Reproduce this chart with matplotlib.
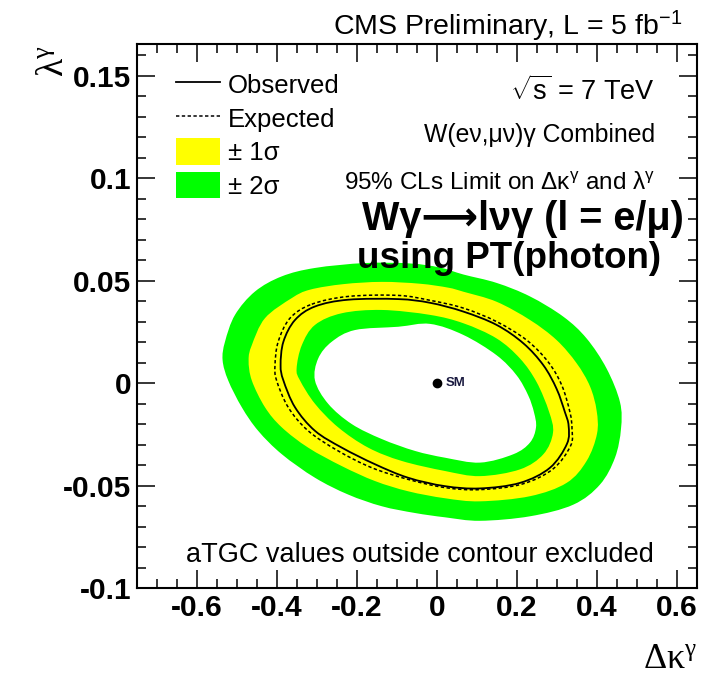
import numpy as np
import matplotlib
matplotlib.use("Agg")
import matplotlib.pyplot as plt
from matplotlib.lines import Line2D
from matplotlib.patches import Patch, PathPatch
from matplotlib.path import Path
from matplotlib.ticker import MultipleLocator

plt.rcParams['font.family'] = ['Liberation Sans', 'DejaVu Sans']
plt.rcParams['mathtext.fontset'] = 'custom'
plt.rcParams['mathtext.rm'] = 'Liberation Sans'
plt.rcParams['mathtext.it'] = 'Liberation Sans:italic'
plt.rcParams['mathtext.bf'] = 'Liberation Sans:bold'

# ---------------- data ----------------
x_ticks = [-0.6, -0.4, -0.2, 0, 0.2, 0.4, 0.6]
x_ticklabels = ['-0.6', '-0.4', '-0.2', '0', '0.2', '0.4', '0.6']
y_ticks = [-0.1, -0.05, 0, 0.05, 0.1, 0.15]
y_ticklabels = ['-0.1', '-0.05', '0', '0.05', '0.1', '0.15']

# outer edge of +-2 sigma band
band2_outer_x = [-0.305, -0.18, -0.0675, 0.0075, 0.066, 0.149, 0.2325, 0.316, 0.374, 0.424,
                 0.4575, 0.46, 0.445, 0.4075, 0.341, 0.2325, 0.1075, 0.02, -0.055, -0.138,
                 -0.222, -0.305, -0.388, -0.447, -0.488, -0.522, -0.536, -0.53, -0.505, -0.455, -0.388]
band2_outer_y = [0.0562, 0.0586, 0.0584, 0.0564, 0.0530, 0.0489, 0.0423, 0.0324, 0.0218, 0.0071,
                 -0.0093, -0.0223, -0.0364, -0.0495, -0.0593, -0.0650, -0.0672, -0.0655, -0.0634, -0.0601,
                 -0.0544, -0.0462, -0.0347, -0.0233, -0.0118, 0.0013, 0.0112, 0.0202, 0.0333, 0.0447, 0.0521]

# outer edge of +-1 sigma band
band1_outer_x = [-0.3175, -0.234, -0.138, -0.0425, 0.0275, 0.066, 0.149, 0.2325, 0.299, 0.349,
                 0.3825, 0.399, 0.40, 0.374, 0.324, 0.2325, 0.1075, 0.02, -0.072, -0.155,
                 -0.238, -0.322, -0.388, -0.43, -0.463, -0.471, -0.463, -0.43, -0.363]
band1_outer_y = [0.0456, 0.0483, 0.0494, 0.0485, 0.0466, 0.0446, 0.0397, 0.0308, 0.0210, 0.0097,
                 -0.0016, -0.0134, -0.0247, -0.0380, -0.0487, -0.0552, -0.0577, -0.0562, -0.0528, -0.0478,
                 -0.0405, -0.0315, -0.0216, -0.0118, 0.0013, 0.0112, 0.0185, 0.0317, 0.0415]

# inner edge of +-1 sigma band
band1_inner_x = [-0.305, -0.238, -0.138, -0.0175, 0.066, 0.149, 0.2075, 0.249, 0.28, 0.29,
                 0.266, 0.2075, 0.1075, 0.02, -0.088, -0.172, -0.247, -0.305, -0.3425, -0.351, -0.338]
band1_inner_y = [0.0284, 0.0341, 0.0357, 0.0333, 0.0292, 0.0218, 0.0120, 0.0005, -0.0139, -0.0242,
                 -0.0347, -0.0421, -0.0454, -0.0429, -0.0380, -0.0315, -0.0216, -0.0101, 0.0013, 0.0071, 0.0185]

# inner edge of +-2 sigma band
band2_inner_x = [-0.263, -0.205, -0.097, -0.0175, 0.066, 0.149, 0.199, 0.228, 0.2425, 0.2475,
                 0.2325, 0.191, 0.1075, 0.02, -0.055, -0.138, -0.213, -0.272, -0.305, -0.297]
band2_inner_y = [0.0202, 0.0259, 0.0275, 0.0289, 0.0235, 0.0136, 0.0038, -0.0060, -0.0143, -0.0216,
                 -0.0290, -0.0347, -0.0388, -0.0364, -0.0331, -0.0273, -0.0200, -0.0101, 0.0013, 0.0120]

# observed limit contour
obs_x = [-0.305, -0.222, -0.097, -0.0175, 0.066, 0.149, 0.216, 0.266, 0.299, 0.32,
         0.329, 0.325, 0.2825, 0.2075, 0.1075, 0.02, -0.072, -0.155, -0.238, -0.305,
         -0.355, -0.384, -0.391, -0.384, -0.355]
obs_y = [0.0374, 0.0407, 0.0410, 0.0392, 0.0349, 0.0284, 0.0194, 0.0087, -0.0028, -0.0143,
         -0.0208, -0.0296, -0.0413, -0.0487, -0.0514, -0.0503, -0.0462, -0.0396, -0.0315, -0.0233,
         -0.0118, 0.0013, 0.0087, 0.0202, 0.0308]

# expected limit contour
exp_x = [-0.313, -0.222, -0.097, -0.0175, 0.066, 0.149, 0.224, 0.278, 0.312, 0.3325,
         0.3375, 0.334, 0.29, 0.2125, 0.1075, 0.02, -0.072, -0.163, -0.247, -0.322,
         -0.372, -0.401, -0.405, -0.397, -0.3675]
exp_y = [0.0385, 0.0423, 0.0428, 0.0404, 0.0366, 0.0300, 0.0210, 0.0103, -0.0011, -0.0143,
         -0.0223, -0.0306, -0.0419, -0.0493, -0.0520, -0.0510, -0.0470, -0.0413, -0.0331, -0.0233,
         -0.0118, 0.0013, 0.0087, 0.0202, 0.0317]

sm_point = (0.0, 0.0)

YELLOW = '#ffff00'
GREEN = '#00ff00'


def closed_curve(xs, ys):
    """Closed smooth path through the given contour points (Catmull-Rom drawn as Bezier)."""
    p = np.column_stack([xs, ys]).astype(float)
    n = len(p)
    verts = [p[0]]
    codes = [Path.MOVETO]
    for i in range(n):
        p0, p1, p2, p3 = p[i - 1], p[i], p[(i + 1) % n], p[(i + 2) % n]
        verts += [p1 + (p2 - p0) / 6.0, p2 - (p3 - p1) / 6.0, p2]
        codes += [Path.CURVE4] * 3
    verts.append(p[0])
    codes.append(Path.CLOSEPOLY)
    return Path(verts, codes)


# ---------------- figure ----------------
fig = plt.figure(figsize=(7.10, 6.75), dpi=100)
ax = fig.add_axes([137/710, 87/675, 560/710, 544/675])
ax.set_xlim(-0.75, 0.65)
ax.set_ylim(-0.1, 0.1655)

ax.add_patch(PathPatch(closed_curve(band2_outer_x, band2_outer_y), fc=GREEN, lw=0, zorder=1))
ax.add_patch(PathPatch(closed_curve(band1_outer_x, band1_outer_y), fc=YELLOW, lw=0, zorder=2))
ax.add_patch(PathPatch(closed_curve(band1_inner_x, band1_inner_y), fc=GREEN, lw=0, zorder=3))
ax.add_patch(PathPatch(closed_curve(band2_inner_x, band2_inner_y), fc='white', lw=0, zorder=4))

EXP_LS = (0, (2.2, 1.6))
ax.add_patch(PathPatch(closed_curve(exp_x, exp_y), fill=False, ec='black', lw=1.1,
                       ls=EXP_LS, zorder=5))
ax.add_patch(PathPatch(closed_curve(obs_x, obs_y), fill=False, ec='black', lw=1.3, zorder=6))

ax.plot([sm_point[0]], [sm_point[1]], 'o', color='black', ms=6, zorder=7)
ax.annotate('SM', xy=sm_point, xytext=(6, 0), textcoords='offset points',
            fontsize=9.5, fontweight='bold', color='#1a1a40', va='center', ha='left', zorder=7)

# ticks
ax.set_xticks(x_ticks)
ax.set_xticklabels(x_ticklabels)
ax.set_yticks(y_ticks)
ax.set_yticklabels(y_ticklabels)
ax.xaxis.set_minor_locator(MultipleLocator(0.05))
ax.yaxis.set_minor_locator(MultipleLocator(0.01))
ax.tick_params(which='both', direction='in', top=True, right=True, width=1.1, color='black')
ax.tick_params(which='major', length=13)
ax.tick_params(which='minor', length=6.5)
ax.tick_params(axis='x', which='major', pad=4, labelsize=21.5)
ax.tick_params(axis='y', which='major', pad=4, labelsize=21.5)
for lab in ax.get_xticklabels() + ax.get_yticklabels():
    lab.set_fontweight('bold')
for sp in ax.spines.values():
    sp.set_linewidth(1.5)

# axis titles
ax.text(1.0, -0.147, r'$\mathregular{Δκ^{γ}}$', transform=ax.transAxes, ha='right',
        va='baseline', fontsize=26, family=['Liberation Serif', 'DejaVu Serif'])
ax.text(-0.132, 0.998, r'$\mathregular{λ^{γ}}$', transform=ax.transAxes, ha='right',
        va='baseline', rotation=90, rotation_mode='anchor', fontsize=27,
        family=['Liberation Serif', 'DejaVu Serif'])

# title
ax.text(0.975, 1.0165, r'CMS Preliminary, L = 5 fb$^{\mathregular{-1}}$', transform=ax.transAxes,
        ha='right', va='baseline', fontsize=20.5)

# right-hand annotations
ax.text(0.925, 0.897, r'$\sqrt{\mathregular{s}}$ = 7 TeV', transform=ax.transAxes,
        ha='right', va='baseline', fontsize=19.5)
ax.text(0.925, 0.8204, 'W(eν,μν)γ Combined', transform=ax.transAxes,
        ha='right', va='baseline', fontsize=17.8)
ax.text(0.925, 0.7316, r'95% CLs Limit on Δκ$^{\mathregular{γ}}$ and λ$^{\mathregular{γ}}$',
        transform=ax.transAxes, ha='right', va='baseline', fontsize=17.5)
ax.text(0.402, 0.658, 'Wγ⟶lνγ (l = e/μ)', transform=ax.transAxes, ha='left', va='baseline',
        fontsize=28.5, fontweight='bold', zorder=10, family=['Liberation Sans', 'DejaVu Sans'])
ax.text(0.393, 0.5877, 'using PT(photon)', transform=ax.transAxes, ha='left', va='baseline',
        fontsize=26.5, fontweight='bold', zorder=10)
ax.text(0.505, 0.0478, 'aTGC values outside contour excluded', transform=ax.transAxes,
        ha='center', va='baseline', fontsize=19.5)

# legend
handles = [Line2D([], [], color='black', lw=1.3),
           Line2D([], [], color='black', lw=1.1, ls=EXP_LS),
           Patch(facecolor=YELLOW, edgecolor='none'),
           Patch(facecolor=GREEN, edgecolor='none')]
labels = ['Observed', 'Expected', '± 1σ', '± 2σ']
ax.legend(handles, labels, loc='upper left', bbox_to_anchor=(0.0696, 0.950), frameon=False,
          borderpad=0, borderaxespad=0, handlelength=1.71, handleheight=1.2,
          handletextpad=0.32, labelspacing=0.26, fontsize=18.5)

fig.savefig('out.png', dpi=100)
